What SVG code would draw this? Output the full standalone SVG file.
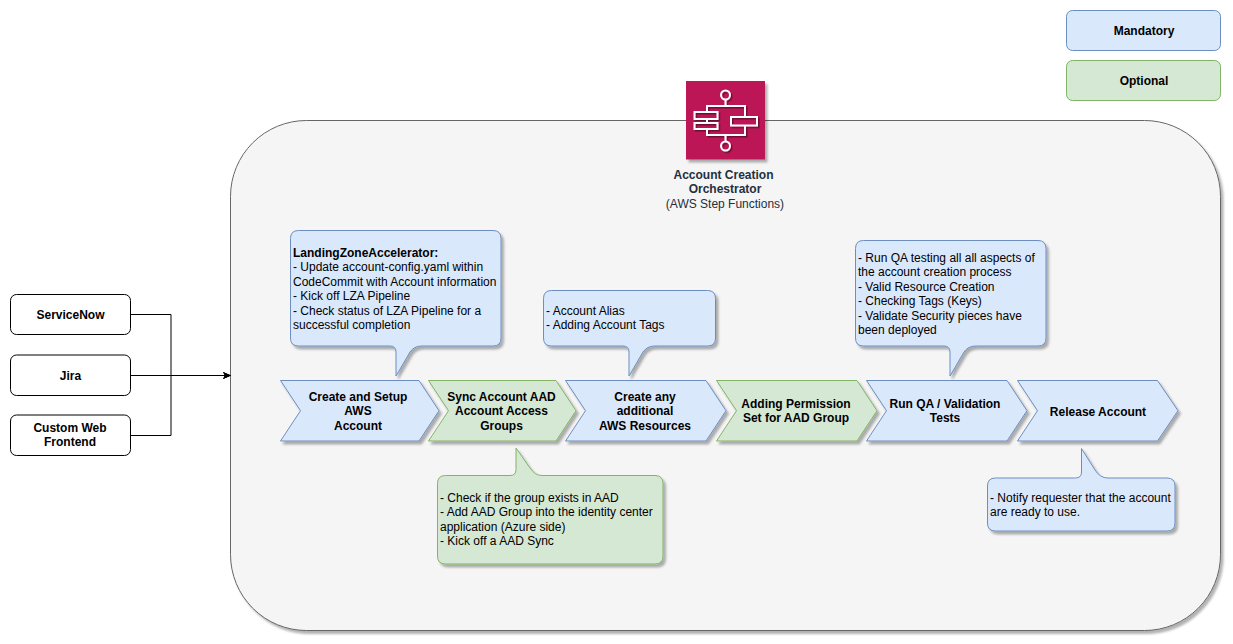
<svg xmlns="http://www.w3.org/2000/svg" width="1233" height="644" viewBox="0 0 1233 644">
<defs>
<filter id="sh" x="-5%" y="-5%" width="112%" height="115%"><feDropShadow dx="2.5" dy="3" stdDeviation="0.8" flood-color="#000" flood-opacity="0.3"/></filter>
<filter id="gs" x="-10%" y="-10%" width="125%" height="125%"><feDropShadow dx="1.5" dy="1.5" stdDeviation="0.6" flood-color="#000" flood-opacity="0.4"/></filter>
<marker id="arr" markerWidth="9" markerHeight="8" refX="8" refY="4" orient="auto" markerUnits="userSpaceOnUse"><path d="M0 0.5L8 4L0 7.5L2 4Z" fill="#000"/></marker>
</defs>
<style>
text{font-family:"Liberation Sans",Arial,sans-serif;font-size:12px;fill:#000}
.c{text-anchor:middle;font-weight:700}
.b{fill:#dae8fc;stroke:#6c8ebf;stroke-width:1}
.g{fill:#d5e8d4;stroke:#82b366;stroke-width:1}
.s{filter:url(#sh)}
.w{fill:#fff;stroke:#000;stroke-width:1}
.ln{fill:none;stroke:#000;stroke-width:1}
.ic{fill:none;stroke:#fff;stroke-width:2;filter:url(#gs)}
.aws{fill:#232f3e;text-anchor:middle}
</style>
<rect width="1233" height="644" fill="#fff"/>
<g id="orchestrator-frame"><rect class="s" x="230.5" y="120.5" width="990" height="510" rx="76" fill="#f5f5f5" stroke="#666"/></g>
<g id="legend-mandatory"><rect class="b" x="1066.5" y="10.5" width="154" height="40" rx="6"/><text class="c" x="1144" y="35">Mandatory</text></g>
<g id="legend-optional"><rect class="g" x="1066.5" y="60.5" width="154" height="40" rx="6"/><text class="c" x="1144" y="85">Optional</text></g>
<g id="orchestrator-icon">
<rect x="686" y="81" width="79" height="78.500" fill="#bc1356" class="s"/>
<g class="ic"><circle cx="725.500" cy="95" r="4.500"/><circle cx="725.500" cy="146" r="4.500"/><path d="M725.500 99.500V106M725.500 135V141.500M707 112V106H745V117M745 125V135H707V129M707 119V123"/><rect x="694.500" y="112" width="23" height="7"/><rect x="694.500" y="123" width="23" height="6"/><rect x="731" y="117" width="26" height="8.500"/></g>
<text x="723.500" y="179" font-weight="700" class="aws">Account Creation</text>
<text x="725" y="193" font-weight="700" class="aws">Orchestrator</text>
<text x="725" y="208" class="aws">(AWS Step Functions)</text>
</g>
<g id="connectors">
<path class="ln" d="M131 314.500H171V375.500H231" marker-end="url(#arr)"/>
<path class="ln" d="M131 375.500H231" marker-end="url(#arr)"/>
<path class="ln" d="M131 435.500H171V375.500H231" marker-end="url(#arr)"/>
</g>
<g id="servicenow"><rect class="w" x="10.500" y="294.500" width="120" height="40" rx="6"/><text class="c" x="70.500" y="319">ServiceNow</text></g>
<g id="jira"><rect class="w" x="10.500" y="355" width="120" height="40.500" rx="6"/><text class="c" x="70.500" y="380">Jira</text></g>
<g id="custom-web-frontend"><rect class="w" x="10.500" y="415" width="120" height="40.500" rx="6"/><text class="c" x="70" y="432">Custom Web</text><text class="c" x="70" y="446">Frontend</text></g>
<g id="step-create"><path class="b s" d="M280.500 380.500H419L439 410.700L419 441H280.500L300.500 410.700Z"/><text class="c" x="358" y="401">Create and Setup</text><text class="c" x="358" y="415">AWS</text><text class="c" x="358" y="430">Account</text></g>
<g id="step-sync"><path class="g s" d="M428.500 380.500H556L576 410.700L556 441H428.500L448.500 410.700Z"/><text class="c" x="501.500" y="401">Sync Account AAD</text><text class="c" x="501.500" y="415">Account Access</text><text class="c" x="501.500" y="430">Groups</text></g>
<g id="step-resources"><path class="b s" d="M565.500 380.500H706L726 410.700L706 441H565.500L585.500 410.700Z"/><text class="c" x="645" y="401">Create any</text><text class="c" x="645" y="415">additional</text><text class="c" x="645" y="430">AWS Resources</text></g>
<g id="step-permission"><path class="g s" d="M716.500 380.500H857L877 410.700L857 441H716.500L736.500 410.700Z"/><text class="c" x="796" y="408">Adding Permission</text><text class="c" x="796" y="422">Set for AAD Group</text></g>
<g id="step-qa"><path class="b s" d="M866.500 380.500H1007L1027 410.700L1007 441H866.500L886.500 410.700Z"/><text class="c" x="945" y="408">Run QA / Validation</text><text class="c" x="945" y="422">Tests</text></g>
<g id="step-release"><path class="b s" d="M1017.500 380.500H1157.500L1178 410.700L1157.500 441H1017.500L1037.500 410.700Z"/><text class="c" x="1098" y="416">Release Account</text></g>
<g id="note-lza"><path class="b s" d="M298.500 230.500H493Q501 230.500 501 238.500V338Q501 346 493 346H422Q414 346 410 352L396 376V352Q396 346 390 346H298.500Q290.500 346 290.500 338V238.500Q290.500 230.500 298.500 230.500Z"/>
<text x="293" y="257" font-weight="700">LandingZoneAccelerator:</text><text x="293" y="271">- Update account-config.yaml within</text><text x="293" y="286">CodeCommit with Account information</text><text x="293" y="300">- Kick off LZA Pipeline</text><text x="293" y="315">- Check status of LZA Pipeline for a</text><text x="293" y="329">successful completion</text></g>
<g id="note-alias"><path class="b s" d="M551.500 290.500H707.500Q715.500 290.500 715.500 298.500V338Q715.500 346 707.500 346H655Q647 346 643 352L629 376V352Q629 346 623 346H551.500Q543.500 346 543.500 338V298.500Q543.500 290.500 551.500 290.500Z"/>
<text x="546" y="315">- Account Alias</text><text x="546" y="329">- Adding Account Tags</text></g>
<g id="note-qa"><path class="b s" d="M863.500 240.500H1038Q1046 240.500 1046 248.500V338Q1046 346 1038 346H976Q968 346 964 352L950 376V352Q950 346 944 346H863.500Q855.500 346 855.500 338V248.500Q855.500 240.500 863.500 240.500Z"/>
<text x="858" y="262">- Run QA testing all all aspects of</text><text x="858" y="276">the account creation process</text><text x="858" y="291">- Valid Resource Creation</text><text x="858" y="305">- Checking Tags (Keys)</text><text x="858" y="320">- Validate Security pieces have</text><text x="858" y="334">been deployed</text></g>
<g id="note-aad"><path class="g s" d="M445.500 475.500H510Q516 475.500 516 469.500V448L530 468Q535 475.500 542 475.500H655Q663 475.500 663 483.500V556Q663 564 655 564H445.500Q437.500 564 437.500 556V483.500Q437.500 475.500 445.500 475.500Z"/>
<text x="440" y="502">- Check if the group exists in AAD</text><text x="440" y="516">- Add AAD Group into the identity center</text><text x="440" y="531">application (Azure side)</text><text x="440" y="545">- Kick off a AAD Sync</text></g>
<g id="note-notify"><path class="b s" d="M995.500 478H1075.500Q1081.500 478 1081.500 472V448.500L1095 470Q1100 478 1108 478H1167Q1175 478 1175 486V523Q1175 531 1167 531H995.500Q987.500 531 987.500 523V486Q987.500 478 995.500 478Z"/>
<text x="990" y="502">- Notify requester that the account</text><text x="990" y="516">are ready to use.</text></g>
</svg>
